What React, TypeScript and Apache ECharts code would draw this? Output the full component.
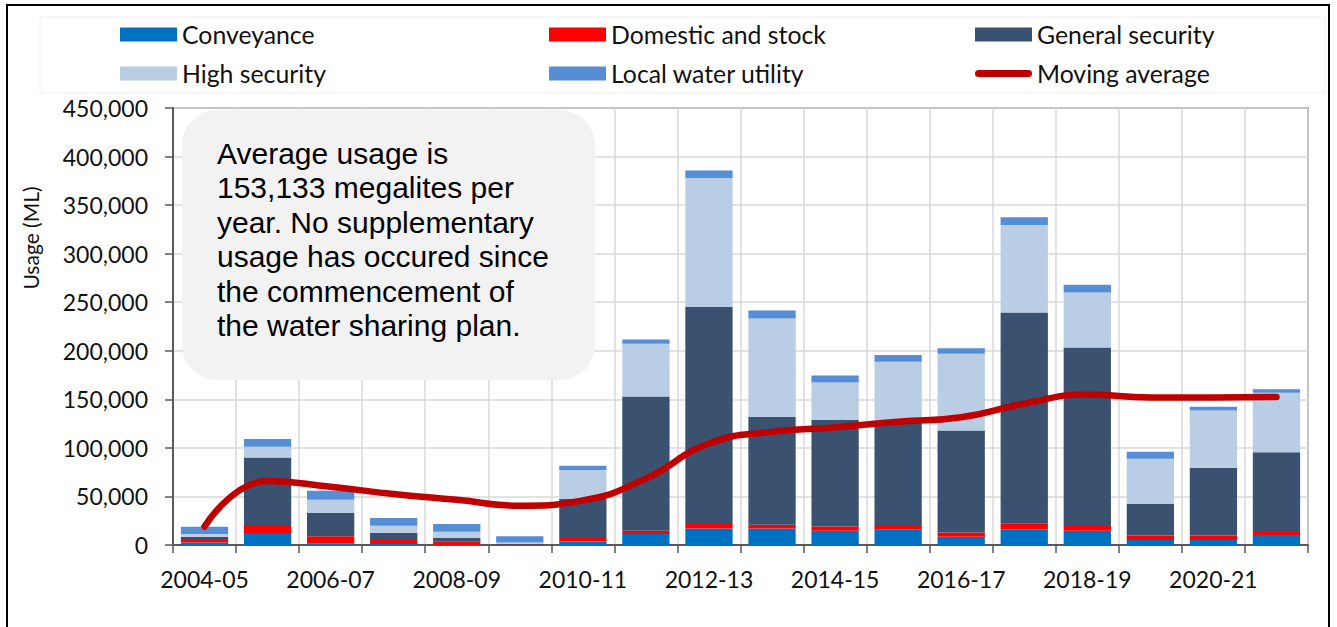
import React, { useEffect, useRef } from "react";
import * as echarts from "echarts";

const categories = [
  "2004-05", "2005-06", "2006-07", "2007-08", "2008-09", "2009-10",
  "2010-11", "2011-12", "2012-13", "2013-14", "2014-15", "2015-16",
  "2016-17", "2017-18", "2018-19", "2019-20", "2020-21", "2021-22",
];

const conveyance = [2700, 12400, 1700, 1000, 300, 300, 3700, 11300, 17100, 17100, 14700, 15800, 8500, 16100, 14700, 5100, 5100, 10300];
const domesticAndStock = [2500, 8200, 7200, 4100, 3100, 300, 3500, 3400, 4500, 3800, 4400, 4800, 4400, 6200, 5900, 4700, 4700, 3100];
const generalSecurity = [3400, 69600, 24000, 7200, 4100, 500, 40200, 138300, 223400, 110900, 109600, 105600, 105000, 217000, 182900, 32300, 69400, 82000];
const highSecurity = [2800, 11000, 13700, 7500, 6200, 1600, 29900, 54300, 132800, 101500, 38700, 62500, 79000, 90300, 56600, 46700, 59300, 61500];
const localWaterUtility = [7500, 7900, 9300, 7900, 7900, 6200, 4400, 4400, 7800, 8200, 7200, 6900, 5800, 7800, 7900, 7200, 3800, 3400];
const movingAverage = [19000, 66000, 60000, 52500, 46500, 40500, 46000, 68500, 104500, 116500, 121000, 127000, 131500, 145500, 155000, 152000, 152000, 152500];

const yMin = 0;
const yMax = 450000;
const yInterval = 50000;

const noteText =
  "Average usage is\n153,133 megalites per\nyear. No supplementary\nusage has occured since\nthe commencement of\nthe water sharing plan.";

const FONT = "Lato, 'Open Sans', sans-serif";
const CAPSULE = "path://M3.5,0 H53.5 A3.5,3.5 0 0 1 53.5,7 H3.5 A3.5,3.5 0 0 1 3.5,0 Z";

export default function App() {
  const ref = useRef<HTMLDivElement>(null);

  useEffect(() => {
    if (!ref.current) return;
    const chart = echarts.init(ref.current, undefined, { renderer: "svg" });

    const barSeries = [
      { name: "Conveyance", data: conveyance, color: "#0070C0" },
      { name: "Domestic and stock", data: domesticAndStock, color: "#FF0000" },
      { name: "General security", data: generalSecurity, color: "#3A526F" },
      { name: "High security", data: highSecurity, color: "#B9CDE5" },
      { name: "Local water utility", data: localWaterUtility, color: "#558ED5" },
    ].map((s) => ({
      name: s.name,
      type: "bar",
      stack: "total",
      data: s.data,
      barCategoryGap: "25%",
      itemStyle: { color: s.color },
      z: 3,
    }));

    const legendDefs = [
      { name: "Conveyance", left: 120, top: 22 },
      { name: "Domestic and stock", left: 549, top: 22 },
      { name: "General security", left: 975, top: 22 },
      { name: "High security", left: 120, top: 61 },
      { name: "Local water utility", left: 549, top: 61 },
      { name: "Moving average", left: 975, top: 61 },
    ];

    const legends = legendDefs.map((l) => {
      const isLine = l.name.startsWith("Moving");
      return {
        data: [
          isLine
            ? { name: l.name, icon: CAPSULE, itemStyle: { color: "#C00000" } }
            : { name: l.name, icon: "rect" },
        ],
        left: l.left,
        top: l.top,
        padding: 0,
        itemWidth: 57,
        itemHeight: isLine ? 7 : 14,
        selectedMode: false,
        textStyle: { fontFamily: FONT, fontSize: 24.8, color: "#111" },
      };
    });

    chart.setOption({
      animation: false,
      backgroundColor: "#ffffff",
      legend: legends,
      grid: {
        left: 173,
        top: 108,
        right: 29,
        bottom: 82,
        show: true,
        borderColor: "#8c8c8c",
        borderWidth: 2,
        backgroundColor: "transparent",
      },
      xAxis: {
        type: "category",
        data: categories,
        boundaryGap: true,
        axisLine: { show: true, lineStyle: { color: "#595959", width: 2 } },
        axisTick: { show: true, interval: 0, length: 8, lineStyle: { color: "#595959", width: 1.5 } },
        axisLabel: { interval: 1, fontFamily: FONT, fontSize: 23, color: "#111", margin: 22 },
        splitLine: { show: true, interval: 0, lineStyle: { color: "#d9d9d9", width: 1.5 } },
      },
      yAxis: {
        type: "value",
        min: yMin,
        max: yMax,
        interval: yInterval,
        axisLine: { show: true, lineStyle: { color: "#595959", width: 2 } },
        axisTick: { show: true, length: 8, lineStyle: { color: "#595959", width: 1.5 } },
        axisLabel: {
          fontFamily: FONT,
          fontSize: 23,
          color: "#111",
          margin: 25,
          formatter: (v: number) => v.toLocaleString("en-US"),
        },
        splitLine: { show: true, lineStyle: { color: "#d9d9d9", width: 1.5 } },
      },
      graphic: [
        {
          type: "rect",
          shape: { x: 7, y: 5, width: 1322, height: 700 },
          style: { fill: "none", stroke: "#000", lineWidth: 2 },
          silent: true,
          z: 10,
        },
        {
          type: "rect",
          shape: { x: 40, y: 17, width: 1285, height: 76 },
          style: { fill: "none", stroke: "#f0f0f0", lineWidth: 1 },
          silent: true,
          z: 0,
        },
        {
          type: "rect",
          shape: { x: 182, y: 110, width: 413, height: 270, r: 35 },
          style: { fill: "#f2f2f2" },
          silent: true,
          z: 1,
        },
        {
          type: "text",
          x: 217,
          y: 136,
          style: {
            text: noteText,
            font: "30px 'Liberation Sans', Arial, sans-serif",
            lineHeight: 34.5,
            fill: "#000",
            align: "left",
            verticalAlign: "top",
          },
          silent: true,
          z: 2,
        },
        {
          type: "text",
          x: 30,
          y: 238,
          rotation: Math.PI / 2,
          style: {
            text: "Usage (ML)",
            font: `21px ${FONT}`,
            fill: "#111",
            align: "center",
            verticalAlign: "middle",
          },
          silent: true,
          z: 2,
        },
      ],
      series: [
        ...barSeries,
        {
          name: "Moving average",
          type: "line",
          data: movingAverage,
          smooth: 0.5,
          symbol: "none",
          lineStyle: { color: "#C00000", width: 6.5, cap: "round" },
          itemStyle: { color: "#C00000" },
          z: 5,
        },
      ],
    });

    return () => chart.dispose();
  }, []);

  return (
    <div
      ref={ref}
      style={{ position: "absolute", left: 0, top: 0, width: 1337, height: 627 }}
    />
  );
}
